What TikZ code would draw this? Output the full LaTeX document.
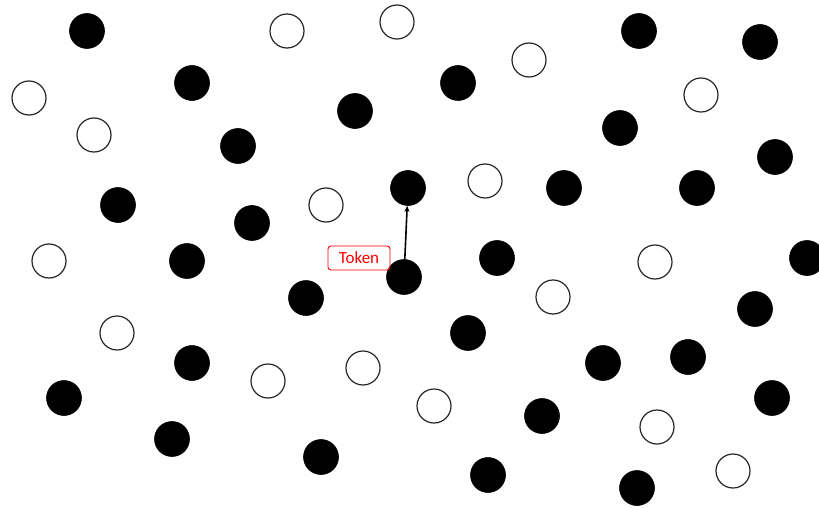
\documentclass[tikz,border=0pt]{standalone}
\usepackage{fontspec}
\setmainfont{Carlito}
\usetikzlibrary{arrows.meta}
\begin{document}
\begin{tikzpicture}[x=1pt,y=-1pt,
  full/.style={circle,fill=black,draw=black,line width=0.6pt,minimum size=35pt,inner sep=0pt},
  hollow/.style={circle,fill=white,draw=black!85,line width=1.2pt,minimum size=34pt,inner sep=0pt},
  tokenbox/.style={draw=red,line width=0.9pt,rounded corners=3pt,text=red,minimum width=62pt,minimum height=24pt,inner sep=0pt,font=\fontsize{17}{20}\selectfont},
  link/.style={line width=1.6pt,-{Stealth[length=6pt,width=5pt]}}]
\useasboundingbox (0,0) rectangle (819,508);
\clip (0,0) rectangle (819,508);
% filled circles
\node[full] (f1) at (87,31) {};
\node[full] (f2) at (192,83) {};
\node[full] (f3) at (355,111) {};
\node[full] (f4) at (458,83) {};
\node[full] (f5) at (639,31) {};
\node[full] (f6) at (760,42) {};
\node[full] (f7) at (620,128) {};
\node[full] (f8) at (238,146) {};
\node[full] (f9) at (118,205) {};
\node[full] (f10) at (252,223) {};
\node[full] (f11) at (408,188) {};
\node[full] (f12) at (564,188) {};
\node[full] (f13) at (697,188) {};
\node[full] (f14) at (775,157) {};
\node[full] (f15) at (187,261) {};
\node[full] (f16) at (306,298) {};
\node[full] (f17) at (404,277) {};
\node[full] (f18) at (497,258) {};
\node[full] (f19) at (807,258) {};
\node[full] (f20) at (468,333) {};
\node[full] (f21) at (192,363) {};
\node[full] (f22) at (64,398) {};
\node[full] (f23) at (172,439) {};
\node[full] (f24) at (321,457) {};
\node[full] (f25) at (542,416) {};
\node[full] (f26) at (603,363) {};
\node[full] (f27) at (688,357) {};
\node[full] (f28) at (755,309) {};
\node[full] (f29) at (772,398) {};
\node[full] (f30) at (488,475) {};
\node[full] (f31) at (637,488) {};
% hollow circles
\node[hollow] (h1) at (287,31) {};
\node[hollow] (h2) at (397,22) {};
\node[hollow] (h3) at (529,60) {};
\node[hollow] (h4) at (29,98) {};
\node[hollow] (h5) at (94,135) {};
\node[hollow] (h6) at (701,95) {};
\node[hollow] (h7) at (326,205) {};
\node[hollow] (h8) at (485,181) {};
\node[hollow] (h9) at (49,261) {};
\node[hollow] (h10) at (655,262) {};
\node[hollow] (h11) at (553,297) {};
\node[hollow] (h12) at (117,333) {};
\node[hollow] (h13) at (268,381) {};
\node[hollow] (h14) at (363,368) {};
\node[hollow] (h15) at (434,406) {};
\node[hollow] (h16) at (657,427) {};
\node[hollow] (h17) at (733,471) {};
% label and arrow
\node[tokenbox] (tok) at (359,258) {Token};
\draw[link] (f17) -- (f11);
\end{tikzpicture}
\end{document}
